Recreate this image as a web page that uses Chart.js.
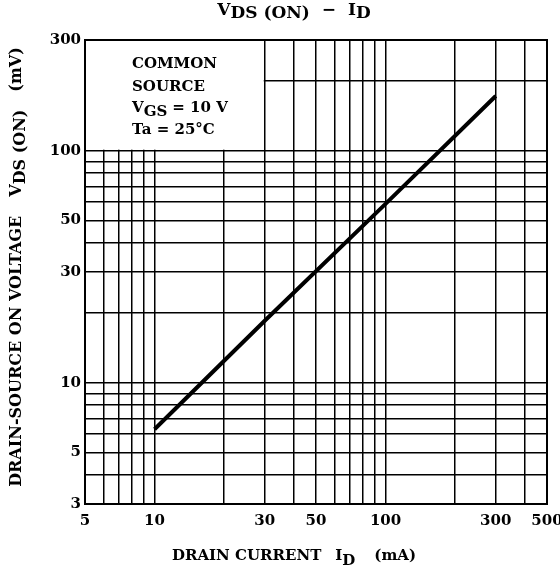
<!DOCTYPE html>
<html>
<head>
<meta charset="utf-8">
<script src="https://cdn.jsdelivr.net/npm/chart.js@4"></script>
<style>
  html, body { margin: 0; padding: 0; background: #fff; }
  #wrap { width: 560px; height: 569px; }
</style>
</head>
<body>
<div id="wrap"><canvas id="myChart" width="560" height="569"></canvas></div>
<script>
// values
const drainCurrent = [10, 30, 100, 300];          // I_D (mA)
const vdsOn = [6.3, 18.5, 59, 172];               // V_DS(ON) (mV)

const xGridValues = [5, 6, 7, 8, 9, 10, 20, 30, 40, 50, 60, 70, 80, 90, 100, 200, 300, 400, 500];
const yGridValues = [3, 4, 5, 6, 7, 8, 9, 10, 20, 30, 40, 50, 60, 70, 80, 90, 100, 200, 300];
const xTickLabels = [5, 10, 30, 50, 100, 300, 500];
const yTickLabels = [3, 5, 10, 30, 50, 100, 300];

const serif = "'DejaVu Serif', 'Liberation Serif', serif";

// draw a run of text pieces, some dropped down like subscripts
function drawRich(ctx, parts, cx, y, size) {
  ctx.font = 'bold ' + size + 'px ' + serif;
  ctx.textAlign = 'left';
  ctx.textBaseline = 'alphabetic';
  let total = 0;
  parts.forEach(p => { total += (p.gap || 0) + ctx.measureText(p.t).width; });
  let x = cx - total / 2;
  parts.forEach(p => {
    x += p.gap || 0;
    ctx.fillText(p.t, x, y + (p.dy || 0));
    x += ctx.measureText(p.t).width;
  });
}

function drawRichLeft(ctx, parts, x, y, size) {
  ctx.font = 'bold ' + size + 'px ' + serif;
  ctx.textAlign = 'left';
  ctx.textBaseline = 'alphabetic';
  parts.forEach(p => {
    x += p.gap || 0;
    ctx.fillText(p.t, x, y + (p.dy || 0));
    x += ctx.measureText(p.t).width;
  });
}

const decorations = {
  id: 'decorations',
  beforeDatasetsDraw(chart) {
    const { ctx, chartArea: a, scales: { x, y } } = chart;
    // white box with the conditions, covering the grid in the top left
    const bx1 = x.getPixelForValue(30);
    const by1 = y.getPixelForValue(100);
    ctx.save();
    ctx.fillStyle = '#fff';
    ctx.fillRect(a.left + 1, a.top + 1, bx1 - a.left - 2, by1 - a.top - 2);
    ctx.fillStyle = '#000';
    const tx = a.left + 47;
    drawRichLeft(ctx, [{ t: 'COMMON' }], tx, a.top + 28, 15);
    drawRichLeft(ctx, [{ t: 'SOURCE' }], tx, a.top + 51, 15);
    drawRichLeft(ctx, [{ t: 'V' }, { t: 'GS', dy: 4 }, { t: '= 10 V', gap: 5 }], tx, a.top + 72, 15);
    drawRichLeft(ctx, [{ t: 'Ta = 25°C' }], tx, a.top + 94, 15);
    ctx.restore();
  },
  afterDatasetsDraw(chart) {
    const { ctx, chartArea: a } = chart;
    ctx.save();
    ctx.strokeStyle = '#000';
    ctx.lineWidth = 2;
    ctx.strokeRect(a.left, a.top, a.right - a.left, a.bottom - a.top);
    ctx.restore();
  },
  afterDraw(chart) {
    const { ctx, chartArea: a } = chart;
    const cx = a.left + 209;
    ctx.save();
    ctx.fillStyle = '#000';
    // chart title
    drawRich(ctx, [
      { t: 'V' }, { t: 'DS (ON)', dy: 3 },
      { t: '\u2212', gap: 12 },
      { t: 'I', gap: 12 }, { t: 'D', dy: 3 }
    ], cx, 15, 17);
    // x axis title
    drawRich(ctx, [
      { t: 'DRAIN CURRENT' },
      { t: 'I', gap: 14 }, { t: 'D', dy: 5 },
      { t: '(mA)', gap: 19 }
    ], cx, 560, 15);
    // y axis title, rotated
    ctx.translate(21, (a.top + a.bottom) / 2 - 5);
    ctx.rotate(-Math.PI / 2);
    drawRich(ctx, [
      { t: 'DRAIN-SOURCE ON VOLTAGE' },
      { t: 'V', gap: 19 }, { t: 'DS (ON)', dy: 4 },
      { t: '(mV)', gap: 18 }
    ], 0, 0, 16);
    ctx.restore();
  }
};

const tickFont = { family: serif, size: 15, weight: 'bold' };

new Chart(document.getElementById('myChart'), {
  type: 'line',
  data: {
    datasets: [{
      label: 'VDS(ON)',
      data: drainCurrent.map((v, i) => ({ x: v, y: vdsOn[i] })),
      borderColor: '#000',
      borderWidth: 4,
      pointRadius: 0,
      fill: false,
      tension: 0
    }]
  },
  options: {
    responsive: false,
    animation: false,
    layout: { padding: { top: 40, right: 13, bottom: 0, left: 0 } },
    plugins: { legend: { display: false }, tooltip: { enabled: false } },
    scales: {
      x: {
        type: 'logarithmic',
        min: 5,
        max: 500,
        afterBuildTicks: axis => { axis.ticks = xGridValues.map(v => ({ value: v })); },
        afterFit: s => { s.height = 65; s.paddingLeft = 0; s.paddingRight = 0; },
        ticks: {
          autoSkip: false,
          maxRotation: 0,
          padding: 8,
          color: '#000',
          font: tickFont,
          callback: v => xTickLabels.includes(v) ? String(v) : ''
        },
        grid: { color: '#000', lineWidth: 1.5, drawTicks: false },
        border: { display: false }
      },
      y: {
        type: 'logarithmic',
        min: 3,
        max: 300,
        afterBuildTicks: axis => { axis.ticks = yGridValues.map(v => ({ value: v })); },
        afterFit: s => { s.width = 85; s.paddingTop = 0; s.paddingBottom = 0; },
        ticks: {
          autoSkip: false,
          padding: 4,
          color: '#000',
          font: tickFont,
          callback: v => yTickLabels.includes(v) ? String(v) : ''
        },
        grid: { color: '#000', lineWidth: 1.5, drawTicks: false },
        border: { display: false }
      }
    }
  },
  plugins: [decorations]
});
</script>
</body>
</html>
